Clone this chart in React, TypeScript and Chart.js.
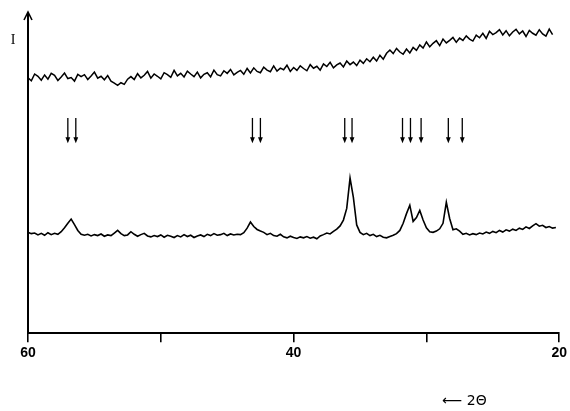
import { useEffect, useRef } from 'react';
import { Chart, registerables } from 'chart.js';

Chart.register(...registerables);

// Diffractogram sampling: first 2θ value and step (degrees)
const START_2THETA = 60;
const STEP_2THETA = 0.25;

// Upper (amorphous) trace intensities, arbitrary units
const upperTrace = [
  79.0, 78.1, 80.2, 79.5, 78.3, 79.9, 78.6, 80.4, 79.8, 78.2,
  79.3, 80.5, 78.8, 79.1, 78.0, 80.1, 79.4, 80.0, 78.5, 79.6,
  80.8, 78.9, 79.5, 78.4, 79.7, 78.0, 77.4, 76.7, 77.5, 77.0,
  78.6, 79.4, 78.5, 80.3, 79.0, 79.8, 81.0, 78.9, 80.2, 79.5,
  78.7, 80.6, 80.0, 79.2, 81.3, 79.6, 80.4, 79.3, 81.1, 80.2,
  79.4, 80.8, 79.0, 80.1, 80.6, 79.3, 81.4, 80.0, 79.6, 81.2,
  80.4, 81.6, 79.9, 80.7, 81.3, 80.1, 81.9, 80.5, 82.1, 81.0,
  80.6, 82.3, 81.4, 80.9, 82.7, 81.1, 82.0, 81.5, 82.9, 81.0,
  82.2, 81.3, 82.7, 81.9, 81.2, 83.1, 82.0, 82.6, 81.4, 83.3,
  82.5, 83.8, 82.1, 83.0, 83.6, 82.4, 84.2, 83.1, 83.9, 82.8,
  84.5, 83.5, 84.9, 84.0, 85.4, 84.2, 86.0, 84.8, 86.6, 87.6,
  86.5, 88.1, 87.0, 86.3, 87.9, 86.7, 88.4, 87.5, 89.2, 88.2,
  90.1, 88.6, 89.7, 90.5, 89.0, 91.0, 89.8, 90.6, 91.5, 90.0,
  91.3, 90.6, 92.0, 91.0, 90.4, 92.2, 91.4, 92.8, 91.2, 93.4,
  92.4, 93.0, 93.9, 92.3, 93.6, 92.0, 93.2, 94.0, 92.6, 93.5,
  91.8, 93.7, 92.8, 92.2, 93.9, 92.6, 91.9, 94.1, 92.4,
];

// Lower (crystalline) trace intensities, arbitrary units
const lowerTrace = [
  31.2, 30.8, 31.0, 30.4, 30.9, 30.3, 31.1, 30.5, 30.9, 30.6,
  31.4, 32.6, 34.0, 35.3, 33.6, 31.8, 30.6, 30.3, 30.6, 30.1,
  30.5, 30.2, 30.7, 30.0, 30.4, 30.2, 31.0, 31.8, 30.8, 30.2,
  30.4, 31.4, 30.6, 30.0, 30.5, 30.9, 30.1, 29.8, 30.2, 29.9,
  30.4, 29.7, 30.3, 30.0, 29.6, 30.2, 29.8, 30.5, 29.9, 30.3,
  29.6, 30.1, 30.4, 29.9, 30.6, 30.2, 30.8, 30.3, 30.5, 30.9,
  30.2, 30.7, 30.4, 30.6, 30.5, 31.1, 32.5, 34.4, 33.0, 32.1,
  31.6, 31.2, 30.5, 30.9, 30.2, 30.0, 30.6, 29.8, 29.5, 30.0,
  29.6, 29.3, 29.8, 29.5, 29.9, 29.4, 29.7, 29.2, 30.1, 30.5,
  31.0, 30.7, 31.5, 32.2, 33.2, 35.0, 38.6, 48.0, 42.0, 33.5,
  31.2, 30.5, 30.9, 30.2, 30.6, 29.9, 30.3, 29.7, 29.5, 29.9,
  30.3, 30.8, 31.8, 34.0, 37.0, 39.6, 34.6, 35.8, 38.0, 35.0,
  32.6, 31.4, 31.2, 31.6, 32.3, 34.0, 40.5, 35.5, 32.0, 32.3,
  31.6, 30.6, 30.9, 30.4, 30.8, 30.5, 31.0, 30.7, 31.3, 30.9,
  31.5, 31.1, 31.8, 31.3, 32.0, 31.6, 32.2, 31.8, 32.5, 32.1,
  32.9, 32.4, 33.2, 33.9, 33.1, 33.4, 32.7, 33.0, 32.5, 32.7,
];

// Reflection markers (2θ, degrees)
const arrowPositions = [57.0, 56.4, 43.1, 42.5, 36.15, 35.6, 31.8, 31.2, 30.4, 28.35, 27.3];
const ARROW_TOP = 66.6;
const ARROW_BOTTOM = 58.8;

// Axis ticks
const tickValues = [60, 50, 40, 30, 20];
const labeledTicks = [60, 40, 20];
const X_MIN = 20;
const X_MAX = 60;
const xAxisLabel = '\u27F5 2\u0398';
const yAxisLabel = 'I';

const toPoints = (vals: number[]) =>
  vals.map((v, i) => ({ x: START_2THETA - i * STEP_2THETA, y: v }));

const decorPlugin = {
  id: 'decor',
  afterDraw(chart: any) {
    const { ctx, chartArea, scales } = chart;
    const xs = scales.x;
    const ys = scales.y;
    ctx.save();
    ctx.strokeStyle = '#000';
    ctx.fillStyle = '#000';
    ctx.lineCap = 'butt';

    // y axis with arrow
    const ax = chartArea.left;
    ctx.lineWidth = 2;
    ctx.beginPath();
    ctx.moveTo(ax, chartArea.bottom);
    ctx.lineTo(ax, chartArea.top + 3);
    ctx.stroke();
    ctx.lineWidth = 1.6;
    ctx.beginPath();
    ctx.moveTo(ax - 4, chartArea.top + 10);
    ctx.lineTo(ax, chartArea.top + 2);
    ctx.lineTo(ax + 4, chartArea.top + 10);
    ctx.stroke();

    // reflection arrows
    const t = ys.getPixelForValue(ARROW_TOP);
    const b = ys.getPixelForValue(ARROW_BOTTOM);
    ctx.lineWidth = 1.3;
    arrowPositions.forEach((p) => {
      const px = xs.getPixelForValue(p);
      ctx.beginPath();
      ctx.moveTo(px, t);
      ctx.lineTo(px, b - 4);
      ctx.stroke();
      ctx.beginPath();
      ctx.moveTo(px - 2.4, b - 6);
      ctx.lineTo(px + 2.4, b - 6);
      ctx.lineTo(px, b);
      ctx.closePath();
      ctx.fill();
    });

    // axis labels
    ctx.font = '14px "Liberation Serif"';
    ctx.textAlign = 'center';
    ctx.textBaseline = 'middle';
    ctx.fillText(yAxisLabel, ax - 15, ys.getPixelForValue(90.5));

    ctx.font = '14px "DejaVu Sans"';
    ctx.textAlign = 'left';
    ctx.fillText(xAxisLabel, xs.getPixelForValue(28.8), chartArea.bottom + 68);
    ctx.restore();
  },
};

export default function App() {
  const ref = useRef<HTMLCanvasElement | null>(null);

  useEffect(() => {
    if (!ref.current) return;
    const chart = new Chart(ref.current, {
      type: 'line',
      data: {
        datasets: [
          {
            data: toPoints(upperTrace),
            borderColor: '#000',
            borderWidth: 1.5,
            pointRadius: 0,
            tension: 0,
            fill: false,
          },
          {
            data: toPoints(lowerTrace),
            borderColor: '#000',
            borderWidth: 1.6,
            pointRadius: 0,
            tension: 0,
            fill: false,
          },
        ],
      },
      options: {
        animation: false,
        responsive: false,
        maintainAspectRatio: false,
        layout: { padding: { left: 28, right: 9, top: 10, bottom: 46 } },
        plugins: {
          legend: { display: false },
          tooltip: { enabled: false },
        },
        scales: {
          x: {
            type: 'linear',
            reverse: true,
            min: X_MIN,
            max: X_MAX,
            afterBuildTicks: (axis: any) => {
              axis.ticks = tickValues.map((v) => ({ value: v }));
            },
            grid: {
              display: true,
              drawOnChartArea: false,
              drawTicks: true,
              tickLength: 9,
              color: '#000',
              lineWidth: 1.6,
            },
            border: { display: true, color: '#000', width: 2 },
            ticks: {
              autoSkip: false,
              maxRotation: 0,
              padding: 3,
              color: '#000',
              font: { family: '"Liberation Sans", Arial, sans-serif', size: 14, weight: 'bold' },
              callback: (v: any) => (labeledTicks.includes(Number(v)) ? String(v) : ''),
            },
          },
          y: {
            display: false,
            min: 0,
            max: 100,
          },
        },
      },
      plugins: [decorPlugin],
    } as any);
    return () => chart.destroy();
  }, []);

  return (
    <div style={{ position: 'fixed', left: 0, top: 0, width: 570, height: 411, background: '#fff' }}>
      <canvas ref={ref} width={570} height={411} style={{ display: 'block', width: 570, height: 411 }} />
    </div>
  );
}
